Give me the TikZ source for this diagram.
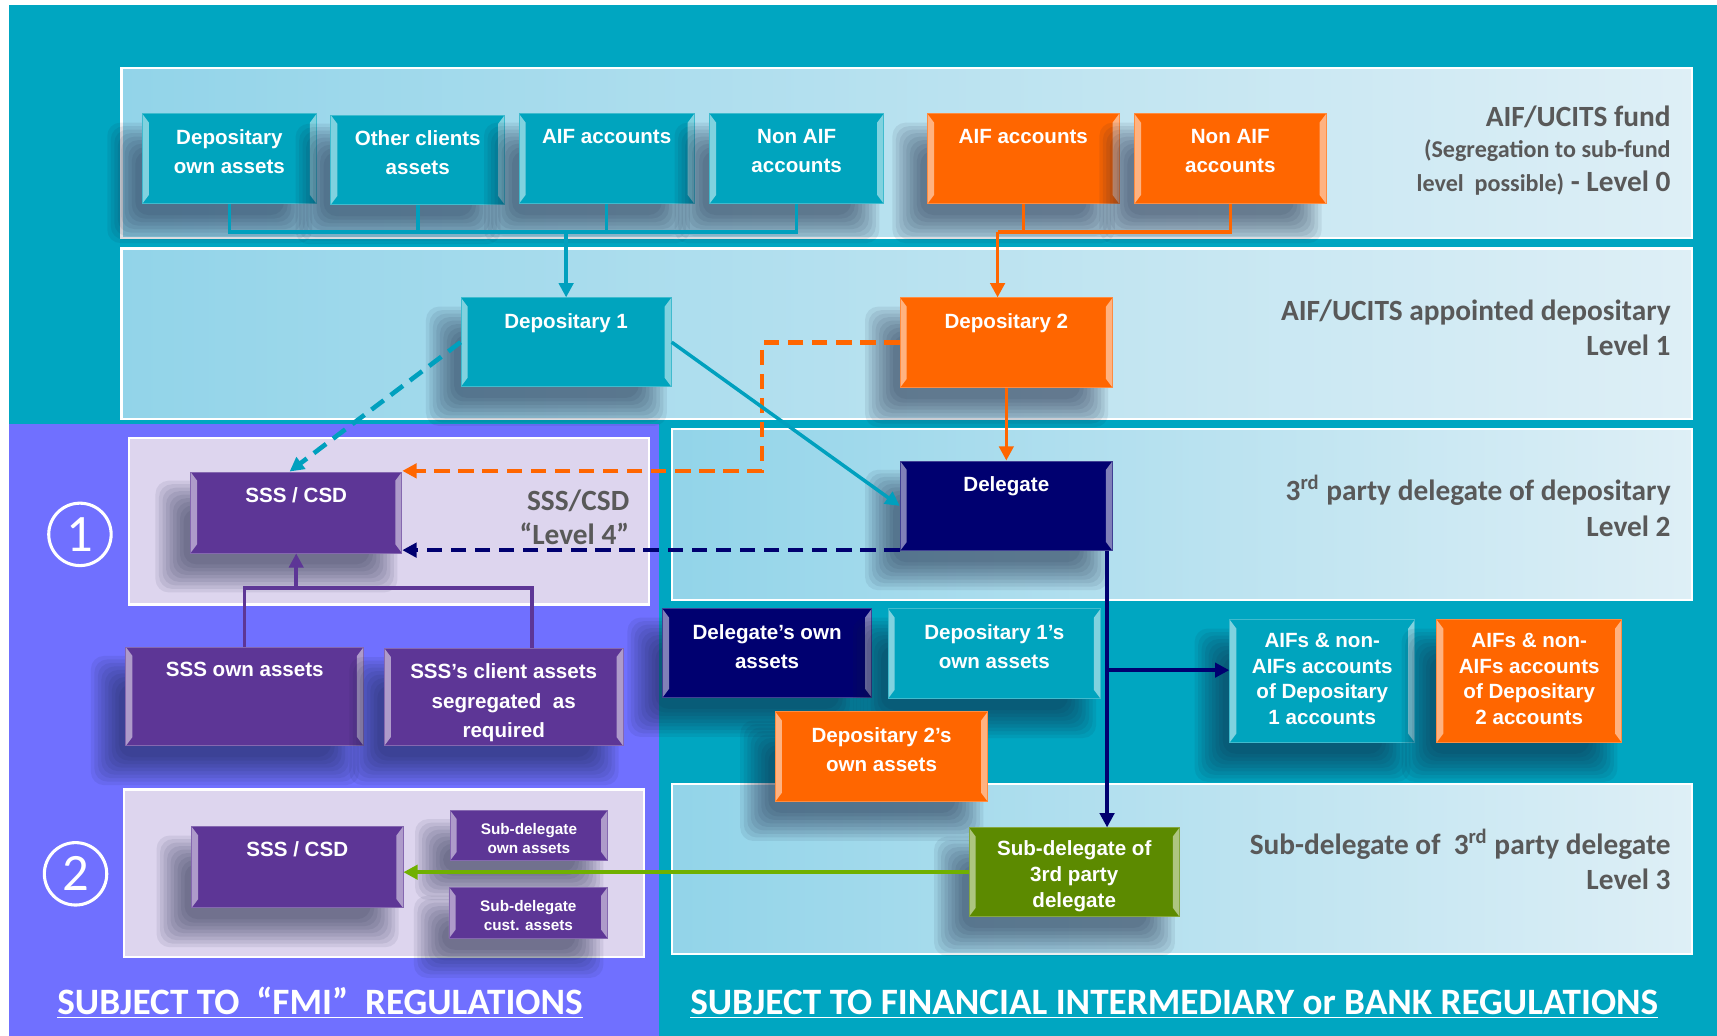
\documentclass[tikz,border=0pt]{standalone}
\usepackage{fontspec}
\setmainfont{Liberation Sans}
\newfontfamily\lblfont{Carlito}
\usetikzlibrary{arrows.meta}
\definecolor{bgteal}{RGB}{0,166,193}
\definecolor{boxteal}{RGB}{0,164,190}
\definecolor{lineteal}{RGB}{0,160,190}
\definecolor{orng}{RGB}{255,102,0}
\definecolor{navyc}{RGB}{0,0,112}
\definecolor{purp}{RGB}{93,54,150}
\definecolor{panel}{RGB}{112,112,255}
\definecolor{lav}{RGB}{221,213,238}
\definecolor{grn}{RGB}{92,138,0}
\definecolor{grnline}{RGB}{112,176,0}
\definecolor{bandL}{RGB}{146,212,233}
\definecolor{bandR}{RGB}{222,239,246}
\definecolor{lblgray}{RGB}{89,89,89}
\definecolor{shad}{RGB}{20,30,60}
\tikzset{
  bx/.style={fill=#1, draw=#1!75!white, line width=0.4pt, inner sep=0pt,
    path picture={
      \fill[#1!50!white] (path picture bounding box.north west) -- ([shift={(3pt,-4pt)}]path picture bounding box.north west) -- ([shift={(3pt,4pt)}]path picture bounding box.south west) -- (path picture bounding box.south west) -- cycle;
      \fill[#1!50!white] (path picture bounding box.north east) -- ([shift={(-3pt,-4pt)}]path picture bounding box.north east) -- ([shift={(-3pt,4pt)}]path picture bounding box.south east) -- (path picture bounding box.south east) -- cycle;
    }},
  shadowlayer/.style={fill=shad, opacity=0.08, rounded corners=6pt},
  bxt/.style={text=white, align=center, inner sep=0pt, font=\bfseries\fontsize{9.4}{13.5}\selectfont},
  lbl/.style={text=lblgray, inner sep=0pt, anchor=base east, font=\lblfont\bfseries\fontsize{13.4}{16}\selectfont},
  ttl/.style={text=white, inner sep=0pt, anchor=base west, font=\lblfont\bfseries\fontsize{17}{20}\selectfont},
  circnum/.style={circle, draw=white, line width=1.4pt, text=white, inner sep=0pt, minimum size=28.5pt, font=\lblfont\fontsize{24}{24}\selectfont},
  conn/.style={line width=1.6pt, draw=#1},
  dconn/.style={line width=2.1pt, draw=#1, dash pattern=on 7pt off 4pt},
  >={Triangle[length=6.5pt,width=6.5pt]}
}
% soft shadow: drawn before the box
\newcommand\mkshadow[4]{%
  \foreach \k in {0,...,8}{
    \pgfmathsetmacro\dd{-14+\k*3.2}
    \fill[shadowlayer] ({#1-18+\dd},{#2+22+\dd}) rectangle ({#3-18-\dd},{#4+22-\dd});
  }}
\newcommand\mkbox[8][]{%
  \mkshadow{#4}{#5}{#6}{#7}
  \node[bx=#3, minimum width={(#6-#4)*0.5pt}, minimum height={(#7-#5)*0.5pt}] (#2) at ({(#4+#6)/2},{(#5+#7)/2}) {};
  \node[bxt, anchor=north, #1] (#2-t) at ([yshift=-7pt]#2.north) {#8};}
\begin{document}
\begin{tikzpicture}[x=0.5pt,y=-0.5pt]
\useasboundingbox (0,0) rectangle (1568,946);
\fill[white] (0,0) rectangle (1568,946);
\fill[bgteal] (8,5) rectangle (1568,946);
\fill[panel] (8,387) rectangle (602,946);
% bands
\foreach \ya/\yb/\xa in {62/217/111, 227/383/111, 392/548/614, 716/871/614}{
  \shade[left color=bandL, right color=bandR] (\xa,\ya) rectangle (1545,\yb);
  \draw[white, line width=1pt] (\xa,\ya) rectangle (1545,\yb);
}
\filldraw[fill=lav, draw=white, line width=1pt] (118,400) rectangle (593,552);
\filldraw[fill=lav, draw=white, line width=1pt] (113,721) rectangle (588,874);

% level 0 boxes
\mkbox{d0}{boxteal}{130}{104}{289}{186}{Depositary\\own assets}
\mkbox{d1}{boxteal}{302}{105}{461}{187}{Other clients\\assets}
\mkbox{d2}{boxteal}{474}{104}{634}{186}{AIF accounts}
\mkbox{d3}{boxteal}{648}{104}{807}{186}{Non AIF\\accounts}
\mkbox{o1}{orng}{847}{104}{1022}{186}{AIF accounts}
\mkbox{o2}{orng}{1036}{104}{1211}{186}{Non AIF\\accounts}
% level 1
\mkbox{dep1}{boxteal}{421}{272}{613}{353}{Depositary 1}
\mkbox{dep2}{orng}{822}{272}{1016}{354}{Depositary 2}
% level 2
\mkbox{dele}{navyc}{822}{421}{1016}{503}{Delegate}
% SSS
\mkbox{sss1}{purp}{174}{431}{367}{505}{SSS / CSD}
\mkbox{sown}{purp}{115}{591}{332}{681}{SSS own assets}
\mkbox{scl}{purp}{351}{592}{569}{681}{SSS’s client assets\\segregated~~as\\required}
\mkbox{sss2}{purp}{175}{755}{368}{829}{SSS / CSD}
\mkbox[yshift=1pt, font=\bfseries\fontsize{7}{8.6}\selectfont]{sdo}{purp}{411}{740}{555}{786}{Sub-delegate\\own assets}
\mkbox[yshift=1pt, font=\bfseries\fontsize{7}{8.6}\selectfont]{sdc}{purp}{410}{810}{555}{857}{Sub-delegate\\cust. assets}
% middle assets
\mkbox{dgo}{navyc}{605}{556}{796}{637}{Delegate’s own\\assets}
\mkbox{d1o}{boxteal}{811}{556}{1005}{638}{Depositary 1’s\\own assets}
\mkbox{d2o}{orng}{708}{650}{902}{732}{Depositary 2’s\\own assets}
\mkbox[yshift=1pt, font=\bfseries\fontsize{9.4}{11.8}\selectfont]{a1}{boxteal}{1123}{566}{1292}{678}{AIFs \& non-\\AIFs accounts\\of Depositary\\1 accounts}
\mkbox[yshift=1pt, font=\bfseries\fontsize{9.4}{11.8}\selectfont]{a2}{orng}{1312}{566}{1481}{678}{AIFs \& non-\\AIFs accounts\\of Depositary\\2 accounts}
\mkbox[yshift=1pt, font=\bfseries\fontsize{9.4}{11.8}\selectfont]{sub}{grn}{885}{756}{1077}{837}{Sub-delegate of\\3rd party\\delegate}

% connectors level 0 -> 1 (teal)
\coordinate (tb) at (517,212);
\draw[conn=lineteal] (d0.south) -- (d0.south |- tb) -- (d3.south |- tb) -- (d3.south);
\draw[conn=lineteal] (d1.south) -- (d1.south |- tb);
\draw[conn=lineteal] (d2.south) -- (d2.south |- tb);
\draw[conn=lineteal,->] (tb) -- (tb |- dep1.north);
% orange
\coordinate (ob) at (911,212);
\draw[conn=orng] (o1.south) -- (o1.south |- ob);
\draw[conn=orng] (o2.south) |- (ob);
\draw[conn=orng,->] (ob) -- (ob |- dep2.north);
\draw[conn=orng,->] (dep2.south) -- (dele.north);
% dashed to SSS/CSD
\coordinate (oc) at (696,430);
\draw[dconn=orng,->] (dep2.west) -| (oc) -- (oc -| sss1.east);
\draw[dconn=lineteal,->] (dep1.west) -- ([xshift=-3pt]sss1.north);
\draw[dconn=navyc,->] ([yshift=0.5pt]dele.south west) -- ([yshift=0.5pt]dele.south west -| sss1.east);
\draw[conn=lineteal,->] (dep1.east) -- (dele.west);
% delegate down
\coordinate (nv) at (1011,503);
\coordinate (br) at (1011,612);
\draw[conn=navyc,->] (nv) -- (nv |- sub.north);
\draw[conn=navyc,->] (br) -- (br -| a1.west);
% green
\draw[conn=grnline,->] (sub.west) -- (sub.west -| sss2.east);
% purple tree
\coordinate (pr) at (486,537);
\draw[conn=purp] (sown.north) |- (pr) -- (pr |- scl.north);
\draw[conn=purp,->] (sss1.south |- pr) -- (sss1.south);

% right labels
\node[lbl] (l0a) at (1526,115.5) {AIF/UCITS fund};
\node[lbl, font=\lblfont\bfseries\fontsize{11}{13}\selectfont] (l0b) at (1526,144) {(Segregation to sub-fund};
\node[lbl] (l0c) at (1526,175) {{\fontsize{11}{13}\selectfont level~~possible)} - Level 0};
\node[lbl] (l1a) at (1526,292.5) {AIF/UCITS appointed depositary};
\node[lbl] (l1b) at (1526,324.5) {Level 1};
\node[lbl] (l2a) at (1526,457.5) {3\textsuperscript{rd} party delegate of depositary};
\node[lbl] (l2b) at (1526,489.5) {Level 2};
\node[lbl] (l3a) at (1526,780.5) {Sub-delegate of~~3\textsuperscript{rd} party delegate};
\node[lbl] (l3b) at (1526,812.5) {Level 3};
\node[lbl] (l4a) at (575,466.5) {SSS/CSD};
\node[lbl] (l4b) at (575,497.5) {“Level 4”};

% circled numbers
\node[circnum] (c1) at (73,488) {1};
\node[circnum] (c2) at (69,798) {2};

% titles
\node[ttl] (t1) at (52,926) {\underline{SUBJECT TO~~“FMI”~~REGULATIONS}};
\node[ttl] (t2) at (630,926) {\underline{SUBJECT TO FINANCIAL INTERMEDIARY or BANK REGULATIONS}};
\end{tikzpicture}
\end{document}
